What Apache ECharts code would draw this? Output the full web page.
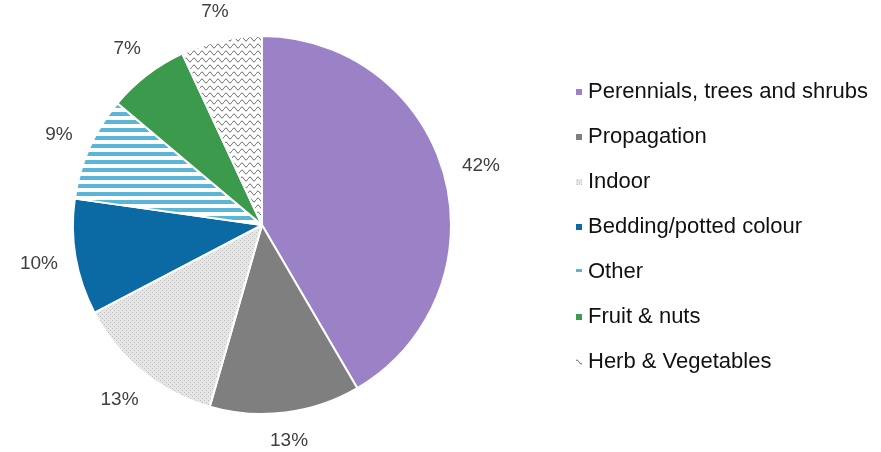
<!DOCTYPE html>
<html><head><meta charset="utf-8">
<script src="https://cdn.jsdelivr.net/npm/echarts@6/dist/echarts.min.js"></script>
<style>html,body{margin:0;padding:0;background:#fff}#c{width:881px;height:452px}</style>
</head><body><div id="c"></div>
<script>
const categories = ['Perennials, trees and shrubs','Propagation','Indoor','Bedding/potted colour','Other','Fruit & nuts','Herb & Vegetables'];
const shares = [42, 13, 13, 10, 9, 7, 7];

function tile(w, h, draw) {
  const c = document.createElement('canvas'); c.width = w; c.height = h;
  draw(c.getContext('2d'), w, h); return c;
}
const indoorTile = tile(4, 4, (g) => {
  g.fillStyle = '#e6e6e6'; g.fillRect(0, 0, 4, 4);
  g.fillStyle = '#bdbdbd'; g.fillRect(0, 0, 1, 1); g.fillRect(2, 2, 1, 1);
});
const stripeTile = tile(8, 8, (g) => {
  g.fillStyle = '#ffffff'; g.fillRect(0, 0, 8, 8);
  g.fillStyle = '#5bb5d6'; g.fillRect(0, 0, 8, 4);
});
const waveTile = tile(8, 7, (g) => {
  g.fillStyle = '#ffffff'; g.fillRect(0, 0, 8, 7);
  g.strokeStyle = '#707070'; g.lineWidth = 1;
  g.beginPath(); g.moveTo(0, 4); g.quadraticCurveTo(2, 0, 4, 4); g.quadraticCurveTo(6, 8, 8, 4); g.stroke();
});
const fills = [
  '#9b82c7', '#7f7f7f',
  { image: indoorTile, repeat: 'repeat' },
  '#0b6aa3',
  { image: stripeTile, repeat: 'repeat' },
  '#3b9a4c',
  { image: waveTile, repeat: 'repeat' }
];
const FONT = '"Liberation Sans", Arial, sans-serif';

const chart = echarts.init(document.getElementById('c'), null, { renderer: 'canvas' });
chart.setOption({
  animation: false,
  backgroundColor: '#ffffff',
  legend: {
    orient: 'vertical', left: 569, top: 75,
    itemWidth: 8, itemHeight: 8, itemGap: 21, icon: 'rect',
    textStyle: { fontSize: 22, fontFamily: FONT, color: '#111', lineHeight: 24 },
    data: categories
  },
  series: [{
    type: 'pie',
    center: [262, 225], radius: 189,
    startAngle: 90, clockwise: true,
    avoidLabelOverlap: false,
    itemStyle: { borderColor: '#ffffff', borderWidth: 2 },
    label: { show: true, position: 'outside', formatter: '{c}%', fontSize: 19, fontFamily: FONT, color: '#404040' },
    labelLine: { show: true, length: 10, length2: 0, lineStyle: { opacity: 0 } },
    labelLayout: function (p) {
      const pts = p.labelLinePoints;
      if (!pts || pts.length < 2) return {};
      const a = pts[0], b = pts[1];
      let dx = b[0] - a[0], dy = b[1] - a[1];
      const L = Math.hypot(dx, dy) || 1; dx /= L; dy /= L;
      const w = p.labelRect.width, h = p.labelRect.height;
      const ext = Math.abs(dx) * w / 2 + Math.abs(dy) * h / 2;
      const gap = 17;
      return { x: a[0] + dx * (gap + ext), y: a[1] + dy * (gap + ext), align: 'center', verticalAlign: 'middle' };
    },
    emphasis: { disabled: true },
    data: categories.map((n, i) => ({ name: n, value: shares[i], itemStyle: { color: fills[i] } }))
  }]
});
</script>
</body></html>
